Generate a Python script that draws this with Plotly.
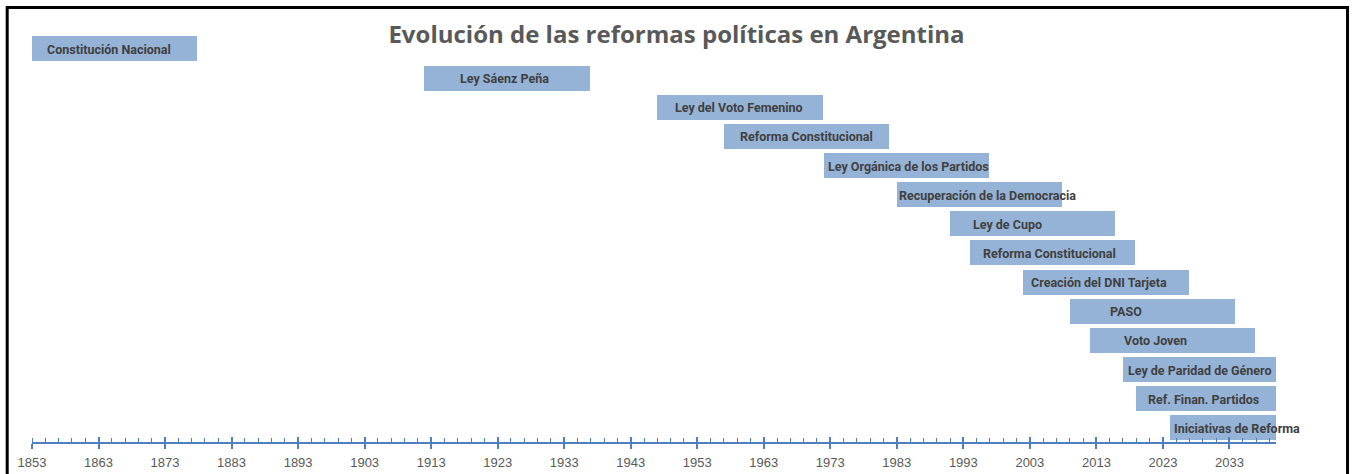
import plotly.graph_objects as go

events = [
    "Constitución Nacional", "Ley Sáenz Peña", "Ley del Voto Femenino",
    "Reforma Constitucional", "Ley Orgánica de los Partidos",
    "Recuperación de la Democracia", "Ley de Cupo", "Reforma Constitucional",
    "Creación del DNI Tarjeta", "PASO", "Voto Joven",
    "Ley de Paridad de Género", "Ref. Finan. Partidos", "Iniciativas de Reforma",
]
start_years = [1853, 1912, 1947, 1957, 1972, 1983, 1991, 1994, 2002, 2009, 2012, 2017, 2019, 2024]
durations = [25, 25, 25, 25, 25, 25, 25, 25, 25, 25, 25, 25, 25, 25]
label_offsets = [1.9, 5.0, 2.3, 2.1, 0.4, 0.0, 3.1, 1.7, 0.8, 5.7, 4.9, 0.4, 1.5, 0.3]
tick_years = [1853, 1863, 1873, 1883, 1893, 1903, 1913, 1923, 1933, 1943, 1953, 1963,
              1973, 1983, 1993, 2003, 2013, 2023, 2033]
x_min, x_max = 1853, 2040

rows = list(range(len(events)))

fig = go.Figure()
fig.add_trace(go.Bar(
    y=rows, x=durations, base=start_years, orientation="h",
    width=0.89,
    marker=dict(color="#95B3D7", line=dict(color="white", width=1)),
    hoverinfo="skip", showlegend=False,
))
# invisible trace to activate the overlay axis
fig.add_trace(go.Scatter(x=[x_min], y=[0], xaxis="x2", mode="markers",
                         marker=dict(opacity=0), hoverinfo="skip", showlegend=False))

for i, (name, s, off) in enumerate(zip(events, start_years, label_offsets)):
    fig.add_annotation(x=s + off, y=i, xref="x", yref="y", text=f"<b>{name}</b>",
                       showarrow=False, xanchor="left", yanchor="middle",
                       font=dict(family="Roboto", size=12.5, color="#404040"))

axis_blue = "#4F7FC0"
fig.update_layout(
    width=1353, height=474,
    margin=dict(l=32.3, r=77, t=20, b=32.3, autoexpand=False),
    paper_bgcolor="white", plot_bgcolor="white",
    title=dict(text="<b>Evolución de las reformas políticas en Argentina</b>",
               x=0.5, xanchor="center", y=1 - 35 / 474, yanchor="middle",
               font=dict(family="Open Sans", size=24, color="#595959")),
    xaxis=dict(range=[x_min, x_max], tickvals=tick_years, ticktext=[str(t) for t in tick_years],
               ticks="outside", ticklen=5, tickwidth=1.5, tickcolor=axis_blue,
               showline=True, linecolor=axis_blue, linewidth=2, showgrid=False, zeroline=False,
               tickfont=dict(family="Liberation Sans", size=13, color="#595959"),
               ticklabelstandoff=2, automargin=False,
               minor=dict(dtick=2, tick0=1853, ticks="inside", ticklen=4, tickwidth=1,
                          tickcolor=axis_blue, showgrid=False),
               layer="above traces"),
    xaxis2=dict(range=[x_min, x_max], overlaying="x", side="bottom", anchor="y",
                tickvals=tick_years, showticklabels=False, ticks="inside", ticklen=5,
                tickwidth=1.5, tickcolor=axis_blue, showline=False, showgrid=False,
                zeroline=False, automargin=False, layer="above traces"),
    yaxis=dict(range=[13.47, -1.01], visible=False, showgrid=False, zeroline=False,
               automargin=False),
    bargap=0,
)

# outer black frame
fig.add_shape(type="rect", xref="paper", yref="paper",
              x0=(7.5 - 32.3) / 1243.7, x1=(1347.5 - 32.3) / 1243.7,
              y0=-0.2, y1=(441.7 - 7.5) / 421.7,
              line=dict(color="black", width=3), fillcolor="rgba(0,0,0,0)", layer="above")

fig.write_html("out.html", config={"displayModeBar": False},
               post_script="document.body.style.margin='0';")
